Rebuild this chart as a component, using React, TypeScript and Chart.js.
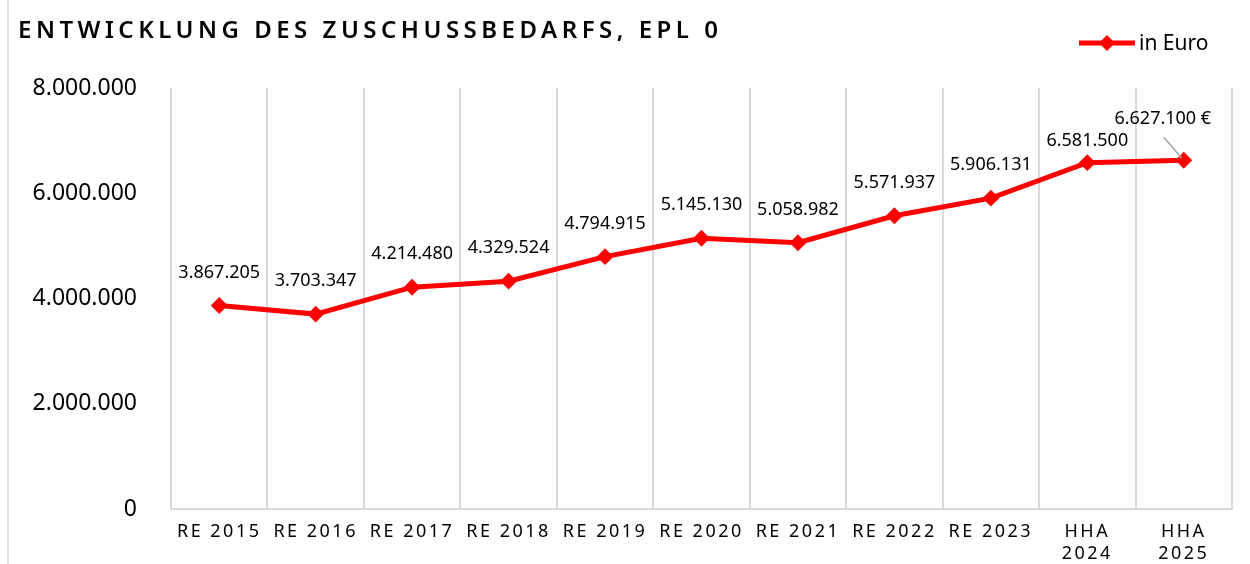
import React, { useEffect, useRef } from "react";
import { Chart, registerables } from "chart.js";

Chart.register(...registerables);

const chartTitle = "ENTWICKLUNG DES ZUSCHUSSBEDARFS, EPL 0";
const seriesLabel = "in Euro";
const categories: (string | string[])[] = [
  "RE 2015",
  "RE 2016",
  "RE 2017",
  "RE 2018",
  "RE 2019",
  "RE 2020",
  "RE 2021",
  "RE 2022",
  "RE 2023",
  ["HHA", "2024"],
  ["HHA", "2025"],
];
const values = [
  3867205, 3703347, 4214480, 4329524, 4794915, 5145130, 5058982, 5571937,
  5906131, 6581500, 6627100,
];
const yMin = 0;
const yMax = 8000000;
const yStep = 2000000;

const fmt = (n: number) =>
  String(Math.round(n)).replace(/\B(?=(\d{3})+(?!\d))/g, ".");

const FONT = '"Noto Sans", "Open Sans", sans-serif';
const RED = "#ff0000";

const customPlugin = {
  id: "customDecor",
  beforeDraw(chart: any) {
    const ctx = chart.ctx as CanvasRenderingContext2D;
    ctx.save();
    ctx.strokeStyle = "#d9d9d9";
    ctx.lineWidth = 1.5;
    ctx.beginPath();
    ctx.moveTo(8, 0);
    ctx.lineTo(8, chart.height);
    ctx.stroke();
    ctx.restore();
  },
  afterDatasetsDraw(chart: any) {
    const ctx = chart.ctx as CanvasRenderingContext2D;
    const meta = chart.getDatasetMeta(0);
    const n = values.length;
    ctx.save();
    (ctx as any).letterSpacing = "0px";
    ctx.font = `18px ${FONT}`;
    ctx.fillStyle = "#000";
    ctx.textAlign = "center";
    ctx.textBaseline = "middle";
    meta.data.forEach((pt: any, i: number) => {
      let x = pt.x;
      let y = pt.y - 33;
      let text = fmt(values[i]);
      if (i === n - 2) y = pt.y - 22;
      if (i === n - 1) {
        x = pt.x - 21;
        y = pt.y - 41;
        text = text + " €";
        ctx.save();
        ctx.strokeStyle = "#a6a6a6";
        ctx.lineWidth = 1.5;
        ctx.beginPath();
        ctx.moveTo(pt.x - 20, pt.y - 23);
        ctx.lineTo(pt.x - 2, pt.y - 2);
        ctx.stroke();
        ctx.restore();
      }
      ctx.fillText(text, x, y);
    });
    ctx.restore();
    (ctx as any).letterSpacing = "2.5px";
  },
  afterDraw(chart: any) {
    const ctx = chart.ctx as CanvasRenderingContext2D;
    (ctx as any).letterSpacing = "0px";
    ctx.save();
    // Title
    (ctx as any).letterSpacing = "4.5px";
    ctx.font = `600 24px ${FONT}`;
    ctx.fillStyle = "#000";
    ctx.textAlign = "left";
    ctx.textBaseline = "alphabetic";
    ctx.fillText(chartTitle, 18, 38);
    (ctx as any).letterSpacing = "0px";
    // Legend
    ctx.strokeStyle = RED;
    ctx.lineWidth = 5;
    ctx.beginPath();
    ctx.moveTo(1079, 43);
    ctx.lineTo(1135, 43);
    ctx.stroke();
    ctx.fillStyle = RED;
    ctx.beginPath();
    ctx.moveTo(1107, 35);
    ctx.lineTo(1115, 43);
    ctx.lineTo(1107, 51);
    ctx.lineTo(1099, 43);
    ctx.closePath();
    ctx.fill();
    ctx.fillStyle = "#000";
    ctx.font = `21px ${FONT}`;
    ctx.fillText(seriesLabel, 1139, 50);
    ctx.restore();
  },
};

export default function App() {
  const ref = useRef<HTMLCanvasElement>(null);
  useEffect(() => {
    if (!ref.current) return;
    Chart.defaults.font.family = FONT;
    const chart = new Chart(ref.current, {
      type: "line",
      data: {
        labels: categories,
        datasets: [
          {
            label: seriesLabel,
            data: values,
            borderColor: RED,
            backgroundColor: RED,
            borderWidth: 5,
            pointStyle: "rectRot",
            pointRadius: 7,
            pointBorderWidth: 2,
            pointBackgroundColor: RED,
            pointBorderColor: RED,
            tension: 0,
          },
        ],
      },
      options: {
        responsive: false,
        animation: false,
        layout: { padding: { top: 88, right: 18, left: 0, bottom: 0 } },
        plugins: {
          legend: { display: false },
          title: { display: false },
          tooltip: { enabled: false },
        },
        scales: {
          x: {
            offset: true,
            grid: {
              offset: true,
              color: "#d9d9d9",
              lineWidth: 2,
              drawTicks: false,
            },
            border: { color: "#d9d9d9", width: 2 },
            ticks: {
              z: 1,
              color: "#000",
              font: { size: 18, family: FONT },
              padding: 12,
              maxRotation: 0,
              minRotation: 0,
              autoSkip: false,
            },
            afterFit: (s: any) => {
              s.height = 55;
            },
          },
          y: {
            min: yMin,
            max: yMax,
            grid: { display: false, drawTicks: false },
            border: { display: false },
            ticks: {
              stepSize: yStep,
              padding: 34,
              color: "#000",
              font: { size: 23, family: FONT },
              callback: (v: any) => fmt(Number(v)),
            },
            afterFit: (s: any) => {
              s.width = 171;
            },
          },
        },
      },
      plugins: [customPlugin],
    } as any);
    return () => chart.destroy();
  }, []);
  return (
    <div style={{ position: "fixed", left: 0, top: 0, width: 1250, height: 564, background: "#fff" }}>
      <canvas ref={ref} width={1250} height={564} style={{ display: "block" }} />
    </div>
  );
}
